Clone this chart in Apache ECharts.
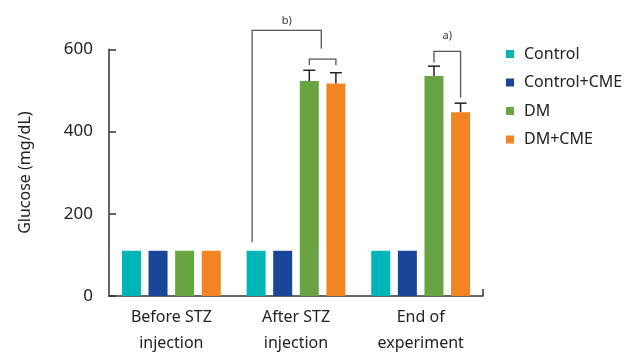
<!DOCTYPE html>
<html>
<head>
<meta charset="utf-8">
<script src="https://cdn.jsdelivr.net/npm/echarts@6/dist/echarts.min.js"></script>
<style>
  html, body { margin: 0; padding: 0; background: #fff; }
  #chart { width: 628px; height: 352px; }
</style>
</head>
<body>
<div id="chart"></div>
<script>
// Blood glucose per group at three time points
const categories = ['Before STZ\ninjection', 'After STZ\ninjection', 'End of\nexperiment'];
const groupNames = ['Control', 'Control+CME', 'DM', 'DM+CME'];
const controlValues = [110, 110, 110];
const controlCmeValues = [110, 110, 110];
const dmValues = [110, 523, 535];
const dmCmeValues = [110, 517, 447];
const controlErrors = [0, 0, 0];
const controlCmeErrors = [0, 0, 0];
const dmErrors = [0, 26, 24];
const dmCmeErrors = [0, 26, 22];
const yTicks = [0, 200, 400, 600];

// Significance brackets: category, left slot, right slot, top value, left foot, right foot
const bracketSpans = [
  [1, 2, 3, 576, 562, 562],
  [1, -0.15, 2.45, 646, 131, 602],
  [2, 2, 3, 595, 568, 483]
];
const bracketLabels = ['', 'b)', 'a)'];
const bracketLabelValues = [0, 668, 632];

const colors = ['#00B5B8', '#1A469A', '#69A443', '#F28423'];
const BAR_W = 19;
const BAR_GAP = 0.4;
const PITCH = BAR_W * (1 + BAR_GAP);
const GRID = { left: 109, top: 49.3, width: 374, height: 246.7 };
const FONT = '"Noto Sans", sans-serif';

const seriesValues = [controlValues, controlCmeValues, dmValues, dmCmeValues];
const seriesErrors = [controlErrors, controlCmeErrors, dmErrors, dmCmeErrors];

const errorData = [];
seriesValues.forEach((vals, s) => {
  vals.forEach((v, c) => {
    if (seriesErrors[s][c] > 0) errorData.push([c, s, v, v + seriesErrors[s][c]]);
  });
});

const slotX = (center, slot) => center + (slot - 1.5) * PITCH;

const chart = echarts.init(document.getElementById('chart'), null, { renderer: 'canvas' });

const barSeries = groupNames.map((name, i) => ({
  name: name,
  type: 'bar',
  data: seriesValues[i],
  barWidth: BAR_W,
  barGap: (BAR_GAP * 100) + '%',
  itemStyle: { color: colors[i] },
  z: 2
}));

chart.setOption({
  animation: false,
  textStyle: { fontFamily: FONT },
  grid: {
    left: GRID.left, top: GRID.top, width: GRID.width, height: GRID.height,
    containLabel: false, outerBoundsMode: 'none'
  },
  legend: {
    orient: 'vertical',
    left: 501,
    top: 40,
    itemWidth: 8,
    itemHeight: 8,
    itemGap: 10.5,
    icon: 'rect',
    data: groupNames,
    textStyle: { fontFamily: FONT, fontSize: 16, color: '#222', lineHeight: 18, padding: [0, 0, 0, 5] }
  },
  xAxis: {
    type: 'category',
    data: categories,
    axisLine: { lineStyle: { color: '#333', width: 1.5 } },
    axisTick: { show: false },
    axisLabel: { color: '#222', fontSize: 16, lineHeight: 26, margin: 8, fontFamily: FONT }
  },
  yAxis: {
    type: 'value',
    min: yTicks[0],
    max: yTicks[yTicks.length - 1],
    interval: yTicks[1] - yTicks[0],
    name: 'Glucose (mg/dL)',
    nameLocation: 'middle',
    nameGap: 76,
    nameTextStyle: { color: '#222', fontSize: 16, fontFamily: FONT },
    axisLine: { show: true, lineStyle: { color: '#333', width: 1.5 } },
    axisTick: { show: true, inside: true, length: 7, lineStyle: { color: '#333', width: 1.5 } },
    axisLabel: { color: '#222', fontSize: 17, margin: 16, fontFamily: FONT },
    splitLine: { show: false }
  },
  graphic: [{
    type: 'line',
    shape: {
      x1: GRID.left + GRID.width, y1: GRID.top + GRID.height - 7,
      x2: GRID.left + GRID.width, y2: GRID.top + GRID.height
    },
    style: { stroke: '#333', lineWidth: 1.5 }
  }],
  series: barSeries.concat([
    {
      name: 'errors',
      type: 'custom',
      data: errorData,
      clip: false,
      z: 3,
      renderItem: function (params, api) {
        const c = api.value(0), s = api.value(1);
        const base = api.coord([c, api.value(2)]);
        const top = api.coord([c, api.value(3)]);
        const x = slotX(base[0], s);
        return {
          type: 'group',
          children: [
            { type: 'line', shape: { x1: x, y1: base[1], x2: x, y2: top[1] }, style: { stroke: '#222', lineWidth: 1.5 } },
            { type: 'line', shape: { x1: x - 6, y1: top[1], x2: x + 6, y2: top[1] }, style: { stroke: '#222', lineWidth: 1.5 } }
          ]
        };
      }
    },
    {
      name: 'brackets',
      type: 'custom',
      data: bracketSpans,
      clip: false,
      z: 4,
      renderItem: function (params, api) {
        const c = api.value(0);
        const topP = api.coord([c, api.value(3)]);
        const leftFoot = api.coord([c, api.value(4)]);
        const rightFoot = api.coord([c, api.value(5)]);
        const x1 = slotX(topP[0], api.value(1));
        const x2 = slotX(topP[0], api.value(2));
        const children = [{
          type: 'polyline',
          shape: { points: [[x1, leftFoot[1]], [x1, topP[1]], [x2, topP[1]], [x2, rightFoot[1]]] },
          style: { stroke: '#555', lineWidth: 1.3, fill: null }
        }];
        const label = bracketLabels[params.dataIndex];
        if (label) {
          const ly = api.coord([c, bracketLabelValues[params.dataIndex]])[1];
          children.push({
            type: 'text',
            style: {
              text: label, x: (x1 + x2) / 2, y: ly,
              align: 'center', verticalAlign: 'middle',
              fill: '#333', fontSize: 11, fontFamily: FONT
            }
          });
        }
        return { type: 'group', children: children };
      }
    }
  ])
});
</script>
</body>
</html>
